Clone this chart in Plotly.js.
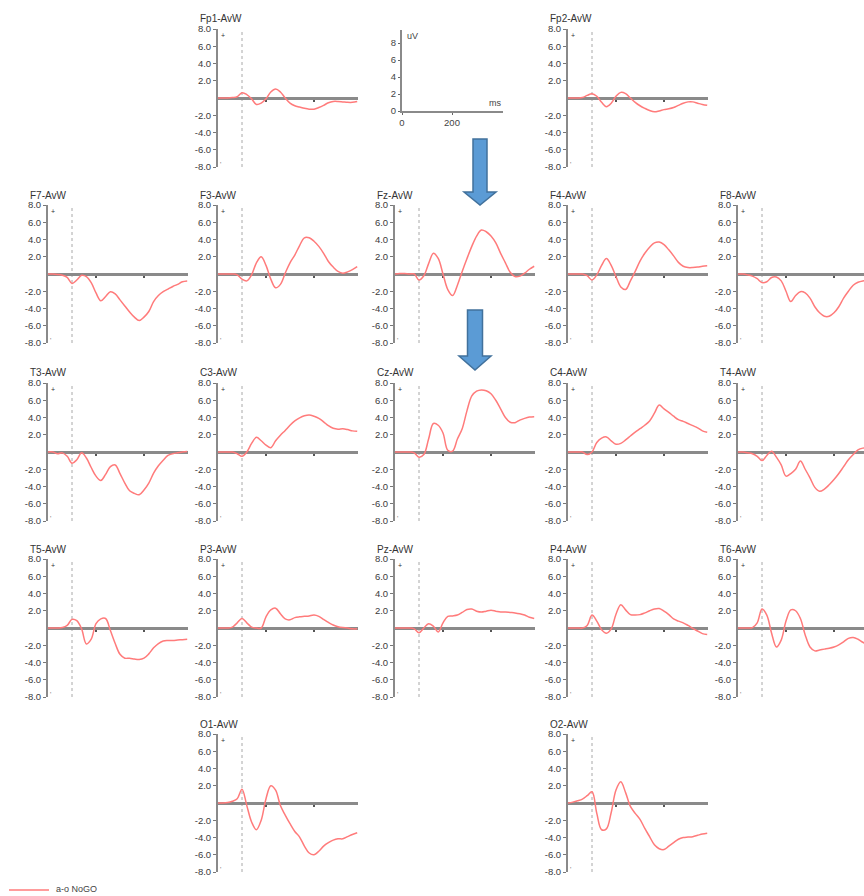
<!DOCTYPE html>
<html>
<head>
<meta charset="utf-8">
<script src="https://cdn.plot.ly/plotly-3.0.1.min.js"></script>
<style>html,body{margin:0;padding:0;background:#fff;overflow:hidden}</style>
</head>
<body>
<div id="chart" style="width:864px;height:896px"></div>
<script>
// ---------------- DATA (ms, uV) ----------------
const times = [-100,-80,-60,-40,-20,0,20,40,60,80,100,120,140,160,180,200,220,240,260,280,300,320,340,360,380,400,420,440,460,480];

const Fp1 = [0,0,0,0.05,0.15,0.6,0.4,-0.1,-0.75,-0.6,-0.1,0.7,1.05,0.7,0,-0.6,-0.9,-1.05,-1.2,-1.3,-1.3,-1.1,-0.85,-0.55,-0.4,-0.4,-0.45,-0.5,-0.5,-0.4];
const Fp2 = [0,0,0,0.05,0.3,0.5,0.2,-0.5,-1.0,-0.6,0.2,0.65,0.5,0.0,-0.5,-0.9,-1.2,-1.45,-1.6,-1.5,-1.35,-1.25,-1.1,-0.85,-0.6,-0.45,-0.45,-0.6,-0.75,-0.85];
const F7  = [0,0,-0.05,-0.15,-0.4,-1.1,-0.7,-0.15,-0.3,-1.0,-2.2,-3.1,-2.6,-2.05,-2.3,-3.0,-3.7,-4.4,-5.0,-5.4,-5.0,-4.35,-3.2,-2.5,-2.05,-1.75,-1.45,-1.2,-0.9,-0.8];
const F3  = [0,0,0,0,-0.1,-0.6,-0.8,-0.1,1.3,2.0,1.0,-0.6,-1.6,-1.2,0.1,1.3,2.2,3.3,4.2,4.2,3.8,3.2,2.4,1.45,0.8,0.3,0.1,0.25,0.5,0.85];
const Fz  = [0,0.05,0.05,0,0,-0.7,-0.2,1.2,2.4,1.8,0.0,-1.8,-2.5,-1.3,0.3,1.8,3.2,4.4,5.1,4.9,4.4,3.6,2.4,1.3,0.2,-0.3,-0.25,0.1,0.55,0.9];
const F4  = [0,0,0,0,-0.2,-0.7,-0.1,1.0,1.8,1.0,-0.3,-1.5,-1.8,-0.8,0.3,1.5,2.4,3.1,3.6,3.7,3.4,2.8,2.1,1.35,0.9,0.75,0.75,0.8,0.9,0.95];
const F8  = [0,0,-0.1,-0.25,-0.55,-1.0,-0.9,-0.4,-0.35,-0.8,-2.0,-3.2,-2.5,-2.05,-2.2,-2.8,-3.8,-4.5,-4.9,-4.9,-4.5,-3.8,-2.8,-2.0,-1.3,-0.95,-0.8,-0.75,-0.7,-0.7];
const T3  = [0,0,-0.2,-0.1,-0.5,-1.3,-0.9,-0.1,-0.7,-1.8,-2.8,-3.3,-2.6,-1.7,-1.5,-2.5,-3.6,-4.5,-4.8,-4.95,-4.4,-3.6,-2.45,-1.6,-0.95,-0.4,-0.2,-0.1,0.0,0.05];
const C3  = [0,0,0,0,-0.2,-0.5,0.0,1.0,1.7,1.3,0.8,0.5,1.3,1.95,2.5,3.1,3.6,3.95,4.2,4.3,4.15,3.9,3.5,3.05,2.75,2.65,2.7,2.6,2.45,2.4];
const Cz  = [0,0,0,0,-0.1,-0.6,-0.3,1.5,3.3,3.1,2.2,0.2,0.1,1.5,2.7,4.8,6.5,7.05,7.2,7.1,6.75,6.0,5.0,4.0,3.45,3.4,3.7,3.9,4.05,4.1];
const C4  = [0,0,0,0,-0.3,0.0,1.1,1.6,1.75,1.3,0.9,1.0,1.4,1.85,2.3,2.7,3.1,3.6,4.5,5.45,5.0,4.6,4.15,3.75,3.55,3.3,3.05,2.8,2.45,2.3];
const T4  = [0,0,-0.1,-0.2,-0.5,-1.0,-0.4,0.1,-0.6,-1.5,-2.8,-2.5,-2.0,-1.05,-2.0,-3.0,-4.1,-4.55,-4.3,-3.8,-3.2,-2.5,-1.7,-0.9,-0.3,0.25,0.45,0.5,0.5,0.5];
const T5  = [0,0,0,0.05,0.3,1.0,0.85,-0.1,-1.85,-1.3,0.5,1.05,1.1,-0.3,-1.8,-3.05,-3.5,-3.5,-3.6,-3.65,-3.5,-3.0,-2.3,-1.8,-1.5,-1.45,-1.45,-1.4,-1.35,-1.3];
const P3  = [0,0,0,0.1,0.6,1.1,0.6,0.1,0.0,0.0,1.3,2.1,2.3,1.65,1.05,0.95,1.2,1.3,1.35,1.4,1.5,1.35,1.0,0.65,0.35,0.15,0.05,0.0,-0.1,-0.1];
const Pz  = [0,0,0,0,-0.1,-0.55,0.0,0.5,0.2,-0.45,0.6,1.35,1.4,1.5,1.8,2.15,2.2,1.95,1.85,1.95,2.05,1.95,1.85,1.85,1.8,1.75,1.65,1.5,1.25,1.1];
const P4  = [0,0,0,0,0.3,1.5,0.8,-0.2,-0.6,-0.1,1.6,2.7,2.1,1.55,1.5,1.55,1.75,2.0,2.2,2.25,1.95,1.55,1.05,0.8,0.6,0.3,-0.05,-0.35,-0.65,-0.75];
const T6  = [0,0,0,0.05,0.6,2.2,1.5,-0.6,-2.2,-1.4,0.8,2.1,2.0,1.1,-0.8,-2.2,-2.65,-2.55,-2.45,-2.35,-2.2,-1.95,-1.6,-1.2,-1.1,-1.3,-1.65,-1.9,-2.0,-2.0];
const O1  = [0,0,0.05,0.2,0.5,1.6,-0.3,-2.2,-3.1,-2.0,0.5,2.0,1.5,-0.3,-1.4,-2.4,-3.3,-3.95,-5.0,-5.8,-6.0,-5.6,-5.0,-4.6,-4.3,-4.15,-4.15,-3.9,-3.65,-3.45];
const O2  = [0,0.1,0.25,0.45,0.85,1.3,-1.2,-3.1,-3.0,-1.1,1.5,2.45,1.2,-0.4,-1.2,-1.9,-2.95,-3.9,-4.85,-5.3,-5.4,-5.0,-4.6,-4.2,-4.0,-3.95,-3.9,-3.75,-3.6,-3.5];

const channelNames = ['Fp1-AvW','Fp2-AvW','F7-AvW','F3-AvW','Fz-AvW','F4-AvW','F8-AvW',
  'T3-AvW','C3-AvW','Cz-AvW','C4-AvW','T4-AvW','T5-AvW','P3-AvW','Pz-AvW','P4-AvW','T6-AvW','O1-AvW','O2-AvW'];
const channelValues = [Fp1,Fp2,F7,F3,Fz,F4,F8,T3,C3,Cz,C4,T4,T5,P3,Pz,P4,T6,O1,O2];

const yTickVals = [-8,-6,-4,-2,2,4,6,8];
const yTickText = ['-8.0','-6.0','-4.0','-2.0','2.0','4.0','6.0','8.0'];
const scaleXTicks = [0,200];
const scaleYTicks = [0,2,4,6,8];
const legendLabel = 'a-o NoGO';

// ---------------- LAYOUT GEOMETRY ----------------
const W = 864, H = 896;
const colX = [48, 218, 395, 568, 738];   // pixel x of each column's y-axis
const rowZ = [98, 274, 452, 628, 803];   // pixel y of each row's zero line
const cellOf = {
  'Fp1-AvW':[1,0],'Fp2-AvW':[3,0],
  'F7-AvW':[0,1],'F3-AvW':[1,1],'Fz-AvW':[2,1],'F4-AvW':[3,1],'F8-AvW':[4,1],
  'T3-AvW':[0,2],'C3-AvW':[1,2],'Cz-AvW':[2,2],'C4-AvW':[3,2],'T4-AvW':[4,2],
  'T5-AvW':[0,3],'P3-AvW':[1,3],'Pz-AvW':[2,3],'P4-AvW':[3,3],'T6-AvW':[4,3],
  'O1-AvW':[1,4],'O2-AvW':[3,4]
};
const PANEL_W = 140, HALF_H = 69, PX_PER_MS = 0.24;
const px = x => x / W;
const py = y => 1 - y / H;

const FONT = 'Liberation Sans, Arial, sans-serif';
const LINE_COLOR = '#ff7b7b';
const AXIS_COLOR = '#8a8a8a';

const data = [];
const layout = {
  width: W, height: H,
  margin: {l:0, r:0, t:0, b:0},
  paper_bgcolor: '#fff', plot_bgcolor: 'rgba(0,0,0,0)',
  showlegend: false,
  font: {family: FONT, size: 9.5, color: '#3a3a3a'},
  shapes: [], annotations: []
};

channelNames.forEach((name, i) => {
  const n = i + 1;
  const xid = n === 1 ? 'x' : 'x' + n;
  const yid = n === 1 ? 'y' : 'y' + n;
  const xk = n === 1 ? 'xaxis' : 'xaxis' + n;
  const yk = n === 1 ? 'yaxis' : 'yaxis' + n;
  const [c, r] = cellOf[name];
  const ax0 = colX[c], z = rowZ[r];
  const right = Math.min(ax0 + PANEL_W, W);
  const xEnd = -100 + (right - ax0) / PX_PER_MS;

  layout[xk] = {
    domain: [px(ax0), px(right)], range: [-100, xEnd],
    anchor: 'free', position: py(z), layer: 'below traces',
    showline: true, linecolor: AXIS_COLOR, linewidth: 3,
    ticks: 'outside', tickvals: [100, 300], ticklen: 2, tickwidth: 1.5, tickcolor: '#555',
    showticklabels: false, showgrid: false, zeroline: false, fixedrange: true
  };
  layout[yk] = {
    domain: [py(z + HALF_H), py(z - HALF_H)], range: [-8, 8],
    anchor: xid,
    showline: true, linecolor: AXIS_COLOR, linewidth: 2,
    ticks: 'outside', ticklen: 3, tickcolor: '#777', tickwidth: 1,
    tickvals: yTickVals, ticktext: yTickText,
    tickfont: {size: 9.5, color: '#3a3a3a', family: FONT},
    showgrid: false, zeroline: false, fixedrange: true
  };

  data.push({
    type: 'scatter', mode: 'lines', x: times, y: channelValues[i],
    xaxis: xid, yaxis: yid, name: name,
    line: {color: LINE_COLOR, width: 1.5, shape: 'spline', smoothing: 1.0},
    hoverinfo: 'skip'
  });

  // stimulus onset (dotted)
  layout.shapes.push({type:'line', xref:xid, yref:yid, x0:0, x1:0, y0:-8, y1:7.8,
    line:{color:'#a8a8a8', width:1, dash:'dot'}, layer:'below'});

  // polarity marks
  layout.annotations.push({xref:xid, yref:yid, x:-80, y:7.3, text:'+', showarrow:false,
    font:{size:7, color:'#333', family:FONT}});
  layout.annotations.push({xref:xid, yref:yid, x:-88, y:-7.7, text:"'", showarrow:false,
    font:{size:7, color:'#777', family:FONT}});

  // panel title
  layout.annotations.push({xref:'paper', yref:'paper', x:px(ax0 - 20), y:py(z - 79),
    xanchor:'left', yanchor:'middle', text:name, showarrow:false,
    font:{size:10, color:'#333', family:FONT}});
});

// ---------------- scale panel ----------------
{
  const n = channelNames.length + 1;
  layout['xaxis' + n] = {
    domain: [px(402), px(503)], range: [0, 404], anchor: 'y' + n,
    showline: true, linecolor: AXIS_COLOR, linewidth: 2,
    ticks: 'outside', ticklen: 2, tickcolor: '#666',
    tickvals: scaleXTicks, ticktext: scaleXTicks.map(String),
    tickfont: {size: 9.5, color: '#444', family: FONT},
    showgrid: false, zeroline: false, fixedrange: true
  };
  layout['yaxis' + n] = {
    domain: [py(111), py(30)], range: [0, 9.53], anchor: 'x' + n,
    showline: true, linecolor: AXIS_COLOR, linewidth: 2,
    ticks: 'outside', ticklen: 2, tickcolor: '#666',
    tickvals: scaleYTicks, ticktext: scaleYTicks.map(String),
    tickfont: {size: 9.5, color: '#444', family: FONT},
    showgrid: false, zeroline: false, fixedrange: true
  };
  data.push({type:'scatter', mode:'lines', x:[], y:[], xaxis:'x'+n, yaxis:'y'+n, hoverinfo:'skip'});
  layout.annotations.push({xref:'paper', yref:'paper', x:px(405), y:py(36), xanchor:'left', yanchor:'middle',
    text:'uV', showarrow:false, font:{size:9, color:'#444', family:FONT}});
  layout.annotations.push({xref:'paper', yref:'paper', x:px(503), y:py(103), xanchor:'right', yanchor:'middle',
    text:'ms', showarrow:false, font:{size:9, color:'#444', family:FONT}});
}

// ---------------- arrows ----------------
function arrowPath(cx, sh, top, base, hh, tip) {
  return `M ${px(cx-sh)} ${py(top)} L ${px(cx+sh)} ${py(top)} L ${px(cx+sh)} ${py(base)} ` +
         `L ${px(cx+hh)} ${py(base)} L ${px(cx)} ${py(tip)} L ${px(cx-hh)} ${py(base)} ` +
         `L ${px(cx-sh)} ${py(base)} Z`;
}
[[480, 7, 139, 192, 16, 205], [475, 7.5, 310, 356, 16, 370]].forEach(a => {
  layout.shapes.push({type:'path', xref:'paper', yref:'paper', path: arrowPath(...a),
    fillcolor:'#5b9bd5', line:{color:'#41719c', width:1.5}, layer:'above'});
});

// ---------------- legend ----------------
layout.shapes.push({type:'line', xref:'paper', yref:'paper', x0:px(9), x1:px(49), y0:py(890), y1:py(890),
  line:{color:LINE_COLOR, width:1.5}});
layout.annotations.push({xref:'paper', yref:'paper', x:px(54), y:py(889), xanchor:'left', yanchor:'middle',
  text:legendLabel, showarrow:false, font:{size:9, color:'#444', family:FONT}});

Plotly.newPlot('chart', data, layout, {staticPlot: true, displayModeBar: false});
</script>
</body>
</html>
